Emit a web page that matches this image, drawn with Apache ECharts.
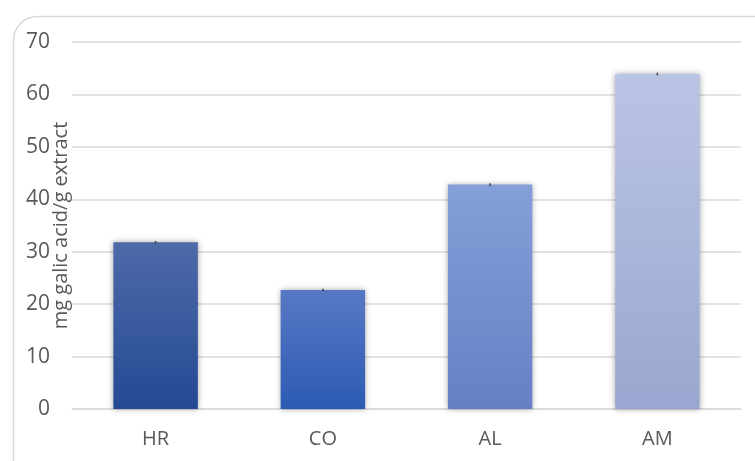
<!DOCTYPE html>
<html>
<head>
<meta charset="utf-8">
<script src="https://cdn.jsdelivr.net/npm/echarts@6/dist/echarts.min.js"></script>
<style>
  html, body { margin: 0; padding: 0; background: #ffffff; }
  #chart { width: 755px; height: 461px; }
</style>
</head>
<body>
<div id="chart"></div>
<script>
// Total phenolic content per extract
const categories = ['HR', 'CO', 'AL', 'AM'];
const values = [31.8, 22.7, 42.8, 63.9];
const errors = [0.25, 0.25, 0.25, 0.25];
const yTicks = { min: 0, max: 70, interval: 10 };

// top / bottom colours of each bar's vertical gradient
const barTopColors = ['#4e6aa9', '#5878c5', '#859fd8', '#bac5e5'];
const barBottomColors = ['#244a93', '#2c5bb3', '#6581c4', '#9aa6cf'];

const FONT = '"Open Sans", "Noto Sans", sans-serif';
const TEXT = '#595959';

const chart = echarts.init(document.getElementById('chart'), null, { renderer: 'canvas' });

const barData = values.map((v, i) => ({
  value: v,
  itemStyle: {
    color: new echarts.graphic.LinearGradient(0, 0, 0, 1, [
      { offset: 0, color: barTopColors[i] },
      { offset: 1, color: barBottomColors[i] }
    ])
  }
}));

chart.setOption({
  animation: false,
  backgroundColor: '#ffffff',
  graphic: [{
    type: 'rect',
    left: 11, top: 14,
    shape: { width: 770, height: 470, r: 24 },
    style: { fill: 'none', stroke: '#d9d9d9', lineWidth: 1.5 },
    silent: true,
    z: -1
  }],
  grid: { left: 72, right: 14, top: 42, bottom: 52 },
  xAxis: {
    type: 'category',
    data: categories,
    axisLine: { show: true, lineStyle: { color: '#d9d9d9', width: 1.5 } },
    axisTick: { show: false },
    axisLabel: { color: TEXT, fontFamily: FONT, fontSize: 20, margin: 20 }
  },
  yAxis: {
    type: 'value',
    min: yTicks.min, max: yTicks.max, interval: yTicks.interval,
    name: 'mg galic acid/g extract',
    nameLocation: 'middle',
    nameGap: 1,
    nameMoveOverlap: false,
    nameTextStyle: { color: TEXT, fontFamily: FONT, fontSize: 20 },
    axisLine: { show: false },
    axisTick: { show: false },
    axisLabel: { color: TEXT, fontFamily: FONT, fontSize: 21, margin: 22 },
    splitLine: { lineStyle: { color: '#d9d9d9', width: 1.5 } }
  },
  series: [{
    type: 'bar',
    data: barData,
    barWidth: '50.5%',
    itemStyle: {
      shadowBlur: 6,
      shadowColor: 'rgba(0,0,0,0.35)',
      shadowOffsetX: 0,
      shadowOffsetY: 0
    },
    z: 2
  }, {
    // error bars
    type: 'custom',
    data: values.map((v, i) => [i, v - errors[i], v + errors[i]]),
    renderItem: function (params, api) {
      const lo = api.coord([api.value(0), api.value(1)]);
      const hi = api.coord([api.value(0), api.value(2)]);
      return {
        type: 'line',
        shape: { x1: lo[0], y1: lo[1], x2: hi[0], y2: hi[1] },
        style: { stroke: '#404040', lineWidth: 1.5 }
      };
    },
    z: 3
  }]
});
</script>
</body>
</html>
